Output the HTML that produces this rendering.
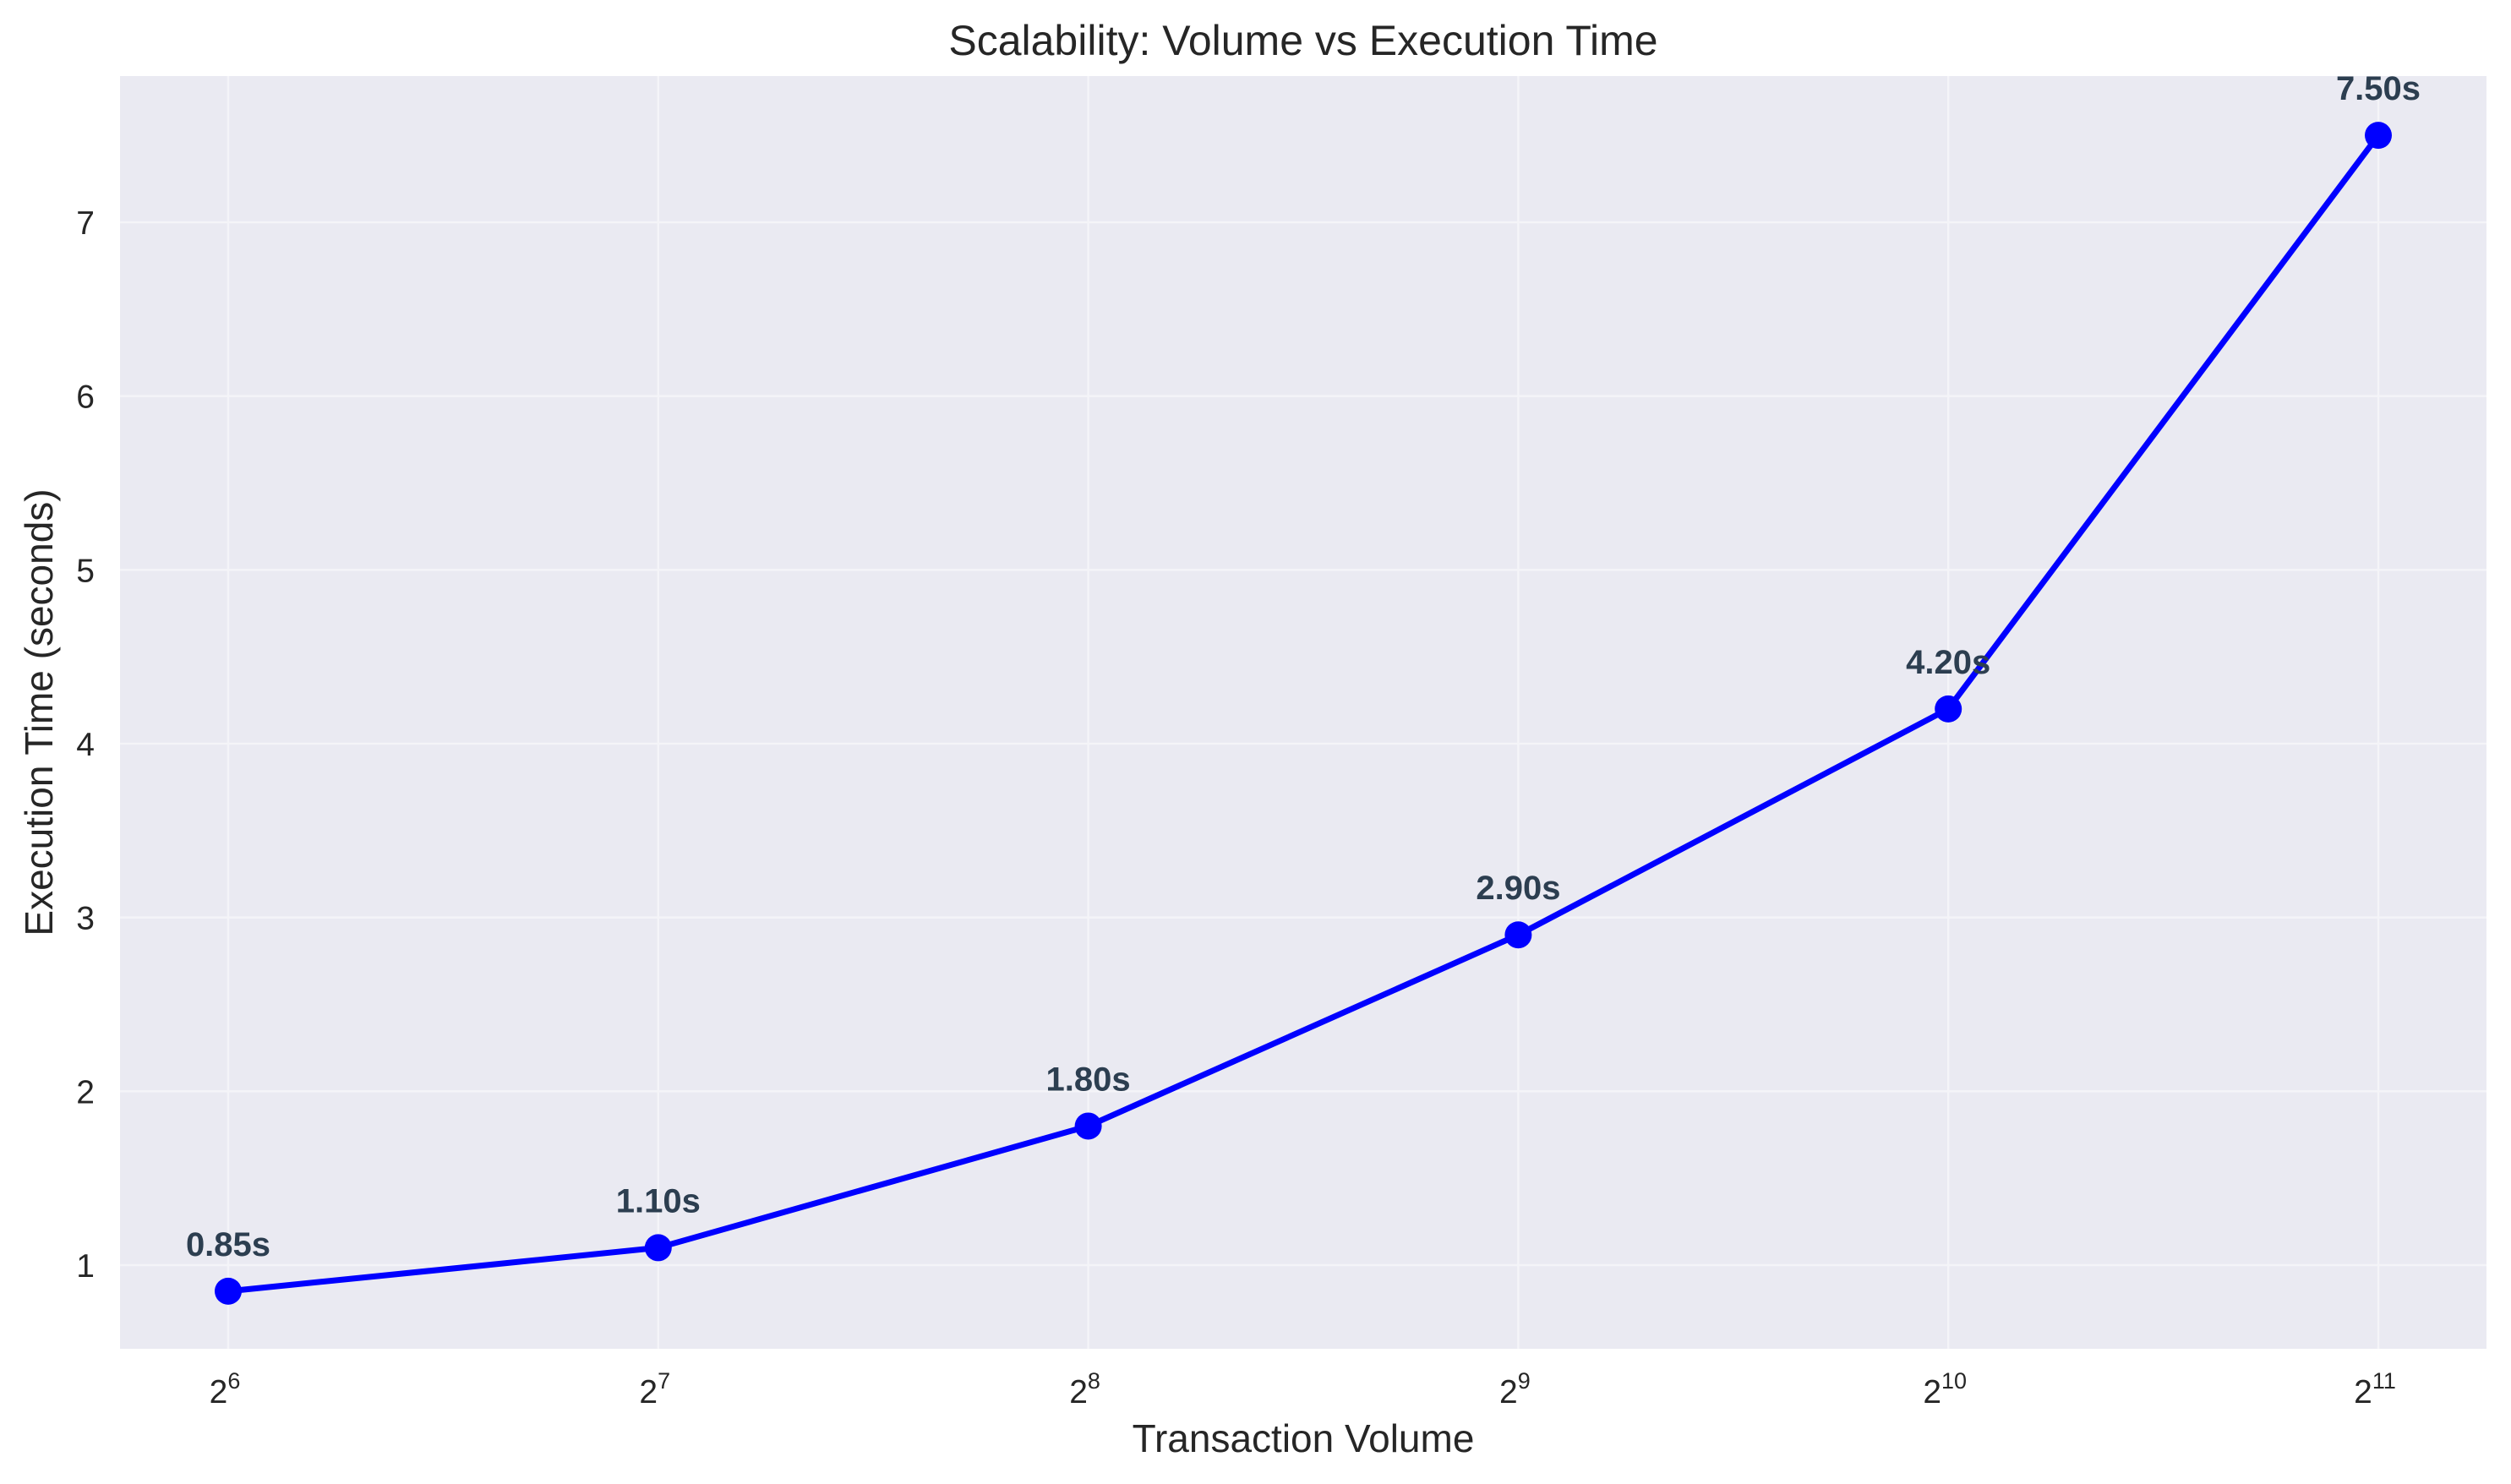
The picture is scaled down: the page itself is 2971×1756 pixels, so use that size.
<!DOCTYPE html>
<html><head><meta charset="utf-8"><style>
html,body{margin:0;padding:0;background:#fff;}
svg{display:block;font-family:"Liberation Sans",sans-serif;}
</style></head><body>
<svg id="chart" width="2971" height="1756" xmlns="http://www.w3.org/2000/svg">
<rect x="142" y="90" width="2800" height="1506" fill="#eaeaf2"/>
<g id="grid"></g>
<g id="xticks"></g>
<g id="yticks"></g>
<g id="series"></g>
<text x="1542" y="65" text-anchor="middle" font-size="50" fill="#262626">Scalability: Volume vs Execution Time</text>
<text x="1542" y="1718" text-anchor="middle" font-size="46" fill="#262626">Transaction Volume</text>
<text transform="translate(62,843) rotate(-90)" text-anchor="middle" font-size="46" fill="#262626">Execution Time (seconds)</text>
</svg>
<script>
const exponents = [6, 7, 8, 9, 10, 11];
const times = [0.85, 1.10, 1.80, 2.90, 4.20, 7.50];
const pointLabels = ["0.85s", "1.10s", "1.80s", "2.90s", "4.20s", "7.50s"];
const yTicks = [1, 2, 3, 4, 5, 6, 7];

const NS = "http://www.w3.org/2000/svg";
const L = 142, R = 2942, T = 90, B = 1596;
function xs(e){ return 270 + (e - 6) * 508.8; }
function ys(v){ return 1497 - (v - 1) * 205.67; }
function mk(tag, attrs, parent){ const el = document.createElementNS(NS, tag); for (const k in attrs) el.setAttribute(k, attrs[k]); parent.appendChild(el); return el; }

const grid = document.getElementById('grid');
const xt = document.getElementById('xticks');
const yt = document.getElementById('yticks');
const ser = document.getElementById('series');

exponents.forEach(e => {
  const x = xs(e);
  const g = mk('line', {x1:x, x2:x, y1:T, y2:B, stroke:'#f4f4f8', 'stroke-width':2.5}, grid);
  
  
  const t = mk('text', {x:x - 4, y:1660, 'text-anchor':'middle', 'font-size':39, fill:'#262626'}, xt);
  
  
  t.textContent = '2';
  const s = mk('tspan', {'font-size':27, dy:-17}, t);
  s.textContent = String(e);
});
yTicks.forEach(v => {
  const y = ys(v);
  const g = mk('line', {x1:L, x2:R, y1:y, y2:y, stroke:'#f4f4f8', 'stroke-width':2.5}, grid);
  
  
  const t = mk('text', {x:112, y:y + 14, 'text-anchor':'end', 'font-size':39, fill:'#262626'}, yt);
  
  
  t.textContent = String(v);
});

const pts = exponents.map((e, i) => xs(e) + ',' + ys(times[i])).join(' ');
const line = mk('polyline', {points:pts, fill:'none', stroke:'#0000ff', 'stroke-width':7, 'stroke-linejoin':'round'}, ser);


exponents.forEach((e, i) => {
  const c = mk('circle', {cx:xs(e), cy:ys(times[i]), r:16, fill:'#0000ff'}, ser);
  
  
  const t = mk('text', {x:xs(e), y:ys(times[i]) - 42, 'text-anchor':'middle', 'font-size':40, 'font-weight':'bold', fill:'#2c3e50'}, ser);
  
  
  t.textContent = pointLabels[i];
});
</script>
</body></html>
